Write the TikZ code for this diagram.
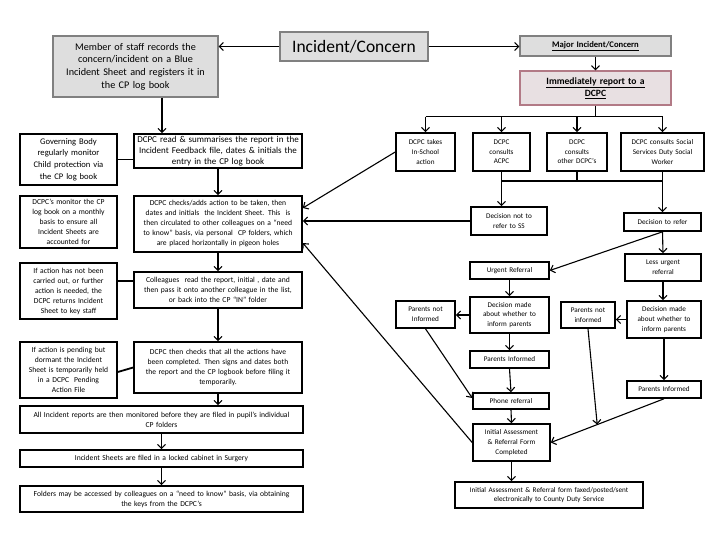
\documentclass[tikz,border=0pt]{standalone}
\usepackage{fontspec}
\setmainfont{Carlito}
\usetikzlibrary{arrows.meta,calc}
\definecolor{boxgray}{RGB}{222,222,222}
\definecolor{edgegray}{RGB}{128,128,128}
\definecolor{pinkedge}{RGB}{178,122,134}
\definecolor{pinkfill}{RGB}{232,224,226}
\tikzset{
  box/.style={draw=black,line width=1.6pt,fill=white,align=center,inner sep=1pt},
  graybox/.style={draw=edgegray,line width=1.3pt,fill=boxgray,align=center,inner sep=1pt},
  pinkbox/.style={draw=pinkedge,line width=1.3pt,fill=pinkfill,align=center,inner sep=1pt},
  arr/.style={line width=1.1pt,-{Straight Barb[length=4pt,width=8pt]}},
  ln/.style={line width=1.1pt},
  thk/.style={line width=1.8pt},
  fa/.style={font=\fontsize{7.6}{10}\selectfont},
  fb/.style={font=\fontsize{7.2}{9.6}\selectfont},
}
\newcommand{\mkbox}[7][]{%
  \pgfmathsetmacro\mkcx{(#3+#5)/2}%
  \pgfmathsetmacro\mkcy{(#4+#6)/2}%
  \pgfmathsetmacro\mkw{#5-#3}%
  \pgfmathsetmacro\mkh{#6-#4}%
  \pgfmathsetmacro\mktw{#5-#3-4}%
  \node[box,#1,minimum width=\mkw pt,minimum height=\mkh pt,text width=\mktw pt] (#2) at (\mkcx,\mkcy) {#7};%
}
\begin{document}
\begin{tikzpicture}[x=1pt,y=-1pt]
\useasboundingbox (0,0) rectangle (720,540);
% top
\mkbox[graybox,font=\fontsize{17.5}{20}\selectfont]{inc}{280}{32}{428}{61}{Incident/Concern}
\mkbox[graybox,font=\fontsize{10.2}{12.6}\selectfont]{mem}{53}{36}{218}{97}{Member of staff records the\\concern/incident on a Blue\\Incident Sheet and registers it in\\the CP log book}
\mkbox[graybox,font=\fontsize{8.6}{10}\selectfont\bfseries]{major}{520}{36}{671}{56}{\underline{Major Incident/Concern}}
\mkbox[pinkbox,font=\fontsize{9.6}{12}\selectfont\bfseries]{imm}{520}{71}{671}{105}{\underline{Immediately report to a}\\\underline{DCPC}}
% right branch boxes
\mkbox[fb]{t1}{396}{133}{455}{171}{DCPC takes\\In-School\\action}
\mkbox[fb]{t2}{473}{133}{530}{171}{DCPC\\consults\\ACPC}
\mkbox[fb]{t3}{547}{133}{607}{171}{DCPC\\consults\\other DCPC’s}
\mkbox[fb]{t4}{621}{133}{704}{171}{DCPC consults Social\\Services Duty Social\\Worker}
\mkbox[fb]{dnr}{471}{207}{547}{235}{Decision not to\\refer to SS}
\mkbox[fb]{dtr}{624}{213}{701}{231}{Decision to refer}
\mkbox[fb]{lu}{625}{254}{701}{281}{Less urgent\\referral}
\mkbox[fb]{ur}{470}{262}{549}{279}{Urgent Referral}
\mkbox[fb]{dml}{470}{297}{549}{333}{Decision made\\about whether to\\inform parents}
\mkbox[fb]{pnl}{396}{301}{455}{328}{Parents not\\Informed}
\mkbox[fb]{pil}{470}{351}{549}{368}{Parents Informed}
\mkbox[fb]{ph}{473}{393}{549}{409}{Phone referral}
\mkbox[fb]{ia}{473}{424}{550}{461}{Initial Assessment\\\& Referral Form\\Completed}
\mkbox[fb]{fin}{455}{482}{643}{508}{Initial Assessment \& Referral form faxed/posted/sent\\electronically to County Duty  Service}
\mkbox[fb]{dmr}{627}{301}{701}{338}{Decision made\\about whether to\\inform parents}
\mkbox[fb]{pnr}{561}{302}{615}{328}{Parents not\\informed}
\mkbox[fb]{pir}{627}{381}{701}{398}{Parents Informed}
% left column
\mkbox[font=\fontsize{8.6}{11.6}\selectfont]{gov}{20}{134}{117}{185}{Governing Body\\regularly monitor\\Child protection via\\the CP log book}
\mkbox[font=\fontsize{9}{11}\selectfont]{rd}{134}{134}{302}{168}{DCPC read \& summarises the report in the\\Incident Feedback file, dates \& initials the\\entry in the CP log book}
\mkbox[fa]{mon}{20}{196}{117}{248}{DCPC’s monitor the CP\\log book on a monthly\\basis to ensure all\\Incident Sheets are\\accounted for}
\mkbox[fa]{chk}{134}{196}{302}{252}{DCPC checks/adds action to be taken, then\\dates and initials\ \ the Incident Sheet. This\ \ is\\then circulated to other colleagues on a “need\\to know” basis, via personal\ \ CP folders, which\\are placed horizontally in pigeon holes}
\mkbox[fa]{nac}{20}{263}{117}{319}{If action has not been\\carried out, or further\\action is needed, the\\DCPC returns Incident\\Sheet to key staff}
\mkbox[fa]{col}{134}{272}{302}{308}{Colleagues\ \ read the report, initial , date and\\then pass it onto another colleague in the list,\\or back into the CP “IN” folder}
\mkbox[fa]{pend}{20}{342}{117}{398}{If action is pending but\\dormant the Incident\\Sheet is temporarily held\\in a DCPC\ \ Pending\\Action File}
\mkbox[fa]{thn}{134}{342}{302}{393}{DCPC then checks that all the actions have\\been completed. Then signs and dates both\\the report and the CP logbook before filing it\\temporarily.}
\mkbox[fa]{all}{20}{406}{303}{433}{All Incident reports are then monitored before they are filed in pupil’s individual\\CP folders}
\mkbox[fa]{sh}{20}{450}{303}{467}{Incident Sheets are filed in a locked cabinet in Surgery}
\mkbox[fa]{fold}{20}{486}{303}{512}{Folders may be accessed by colleagues on a “need to know” basis, via obtaining\\the keys from the DCPC’s}
% connectors top
\draw[arr] (inc.west) -- (inc.west -| mem.east);
\draw[arr] (inc.east) -- (inc.east -| major.west);
\draw[arr] (major.south) -- (imm.north);
\draw[ln] (imm.south) -- ++(0,11) coordinate (br);
\draw[ln] (br -| t1.north) -- (br -| t4.north);
\foreach \t in {t1,t2,t3,t4} \draw[arr] (br -| \t.north) -- (\t.north);
\coordinate (jn) at (0,181);
\draw[ln] (t2.south) -- (t2.south |- jn);
\draw[ln] (t3.south) -- (t3.south |- jn);
\draw[ln] (t4.south) -- (t4.south |- jn);
\draw[ln] (t2.south |- jn) -- (t4.south |- jn);
\draw[arr] (t2.south |- jn) -- (t2.south |- dnr.north);
\draw[arr] (t4.south |- jn) -- (t4.south |- dtr.north);
% into chk
\draw[arr] (t1.west) -- ([yshift=16pt]chk.east);
\draw[arr] (dnr.west) -- (dnr.west -| chk.east);
\draw[arr] (ia.west) -- ([yshift=-19pt]chk.east);
% right lower
\draw[arr] (dtr.south) -- (ur.east);
\draw[arr] (dtr.south) -- (lu.north);
\draw[arr] (ur.south) -- (dml.north);
\draw[arr] (dml.west) -- (dml.west -| pnl.east);
\draw[arr] (dml.south) -- (pil.north);
\draw[arr] (pil.south) -- (ph.north);
\draw[arr] (pnl.south) -- ([yshift=3pt]ph.west);
\draw[arr] (ph.south) -- (ia.north);
\draw[arr] (ia.south) -- (ia.south |- fin.north);
\draw[arr] (lu.south) -- (lu.south |- dmr.north);
\draw[arr] (dmr.west) -- (dmr.west -| pnr.east);
\draw[arr] (dmr.south) -- (dmr.south |- pir.north);
\draw[arr] (pir.south) -- (ia.east);
\coordinate (mp) at ($(pir.south)!0.59!(ia.east)$);
\draw[arr] (pnr.south) -- (mp);
% left connectors
\draw[arr] ([xshift=26.5pt]mem.south) -- ([xshift=26.5pt]mem.south |- rd.north);
\draw[ln] (gov.east) -- (gov.east -| rd.west);
\draw[arr] (rd.south) -- (chk.north);
\draw[arr] (chk.south) -- (col.north);
\draw[thk] ([yshift=10pt]nac.east) -- ([yshift=10pt]nac.east -| col.west);
\draw[arr] (col.south) -- (thn.north);
\draw[thk] ([yshift=-2pt]pend.east) -- (thn.west);
\draw[arr] (thn.south) -- (thn.south |- all.north);
\draw[arr] (all.south) -- (sh.north);
\draw[arr] (sh.south) -- (fold.north);
\end{tikzpicture}
\end{document}
